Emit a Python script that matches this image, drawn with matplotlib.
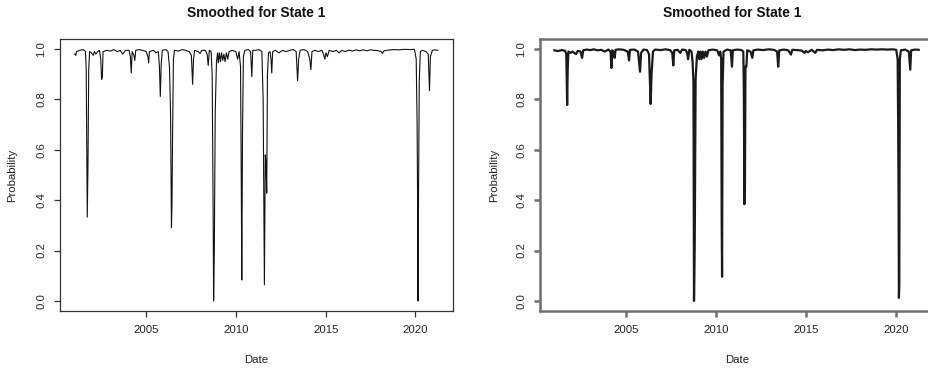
import numpy as np
import matplotlib.pyplot as plt

plt.rcParams['font.family'] = ['Liberation Sans', 'DejaVu Sans']

# smoothed probability of state 1, left model (dates in decimal years)
dates_a = [2001.02, 2001.08, 2001.12, 2001.30, 2001.50, 2001.62, 2001.66, 2001.72, 2001.76, 2001.80,
           2001.85, 2001.95, 2002.05, 2002.12, 2002.20, 2002.30, 2002.40, 2002.47, 2002.52, 2002.56,
           2002.60, 2002.80, 2003.00, 2003.20, 2003.40, 2003.55, 2003.70, 2003.85, 2004.05, 2004.12,
           2004.17, 2004.22, 2004.32, 2004.37, 2004.42, 2004.60, 2004.80, 2005.00, 2005.10, 2005.14,
           2005.18, 2005.40, 2005.55, 2005.68, 2005.74, 2005.79, 2005.84, 2005.90, 2006.10, 2006.22,
           2006.30, 2006.36, 2006.41, 2006.44, 2006.47, 2006.52, 2006.58, 2006.80, 2007.00, 2007.20,
           2007.40, 2007.52, 2007.59, 2007.64, 2007.70, 2007.90, 2008.00, 2008.10, 2008.30, 2008.40,
           2008.46, 2008.52, 2008.62, 2008.68, 2008.73, 2008.76, 2008.80, 2008.85, 2008.92, 2008.98,
           2009.02, 2009.08, 2009.14, 2009.20, 2009.27, 2009.33, 2009.40, 2009.47, 2009.55, 2009.62,
           2009.80, 2010.00, 2010.10, 2010.18, 2010.26, 2010.30, 2010.33, 2010.37, 2010.42, 2010.50,
           2010.70, 2010.82, 2010.89, 2010.94, 2011.10, 2011.30, 2011.45, 2011.52, 2011.59, 2011.64,
           2011.68, 2011.72, 2011.76, 2011.82, 2011.90, 2011.96, 2012.00, 2012.05, 2012.20, 2012.40,
           2012.60, 2012.80, 2013.00, 2013.20, 2013.36, 2013.44, 2013.50, 2013.58, 2013.80, 2014.00,
           2014.12, 2014.18, 2014.24, 2014.40, 2014.60, 2014.80, 2014.90, 2014.96, 2015.02, 2015.10,
           2015.20, 2015.40, 2015.60, 2015.75, 2015.90, 2016.10, 2016.30, 2016.50, 2016.70, 2016.90,
           2017.10, 2017.30, 2017.50, 2017.70, 2017.90, 2018.10, 2018.17, 2018.25, 2018.50, 2018.80,
           2019.10, 2019.40, 2019.70, 2019.95, 2020.05, 2020.10, 2020.13, 2020.15, 2020.18, 2020.22,
           2020.28, 2020.40, 2020.60, 2020.72, 2020.79, 2020.84, 2020.95, 2021.10, 2021.25]
prob_a = [0.980, 0.975, 0.990, 0.995, 0.998, 0.990, 0.920, 0.333, 0.550, 0.920,
          0.990, 0.985, 0.975, 0.990, 0.980, 0.990, 0.995, 0.960, 0.880, 0.890,
          0.990, 0.995, 0.992, 0.998, 0.990, 0.995, 0.980, 0.995, 0.995, 0.970,
          0.905, 0.990, 0.975, 0.955, 0.995, 0.998, 0.995, 0.990, 0.970, 0.945,
          0.990, 0.995, 0.985, 0.990, 0.930, 0.812, 0.940, 0.995, 0.998, 0.990,
          0.930, 0.750, 0.290, 0.380, 0.640, 0.960, 0.995, 0.992, 0.998, 0.995,
          0.990, 0.975, 0.860, 0.960, 0.995, 0.990, 0.982, 0.995, 0.995, 0.980,
          0.935, 0.995, 0.990, 0.900, 0.400, 0.000, 0.200, 0.750, 0.950, 0.985,
          0.945, 0.985, 0.950, 0.985, 0.955, 0.980, 0.950, 0.985, 0.960, 0.990,
          0.995, 0.990, 0.960, 0.990, 0.930, 0.500, 0.083, 0.670, 0.970, 0.995,
          0.998, 0.990, 0.890, 0.995, 0.995, 0.998, 0.990, 0.800, 0.064, 0.580,
          0.550, 0.428, 0.900, 0.985, 0.990, 0.960, 0.905, 0.990, 0.995, 0.985,
          0.995, 0.990, 0.995, 0.998, 0.990, 0.874, 0.960, 0.995, 0.998, 0.990,
          0.960, 0.918, 0.990, 0.995, 0.990, 0.995, 0.975, 0.960, 0.985, 0.970,
          0.995, 0.990, 0.995, 0.985, 0.995, 0.990, 0.996, 0.992, 0.997, 0.993,
          0.997, 0.993, 0.997, 0.995, 0.994, 0.990, 0.983, 0.993, 0.996, 0.998,
          0.997, 0.999, 0.998, 0.999, 0.960, 0.700, 0.360, 0.000, 0.434, 0.870,
          0.990, 0.995, 0.990, 0.980, 0.835, 0.970, 0.995, 0.997, 0.995]

# smoothed probability of state 1, right model
dates_b = [2001.00, 2001.20, 2001.40, 2001.60, 2001.66, 2001.71, 2001.74, 2001.78, 2001.90, 2002.00,
           2002.10, 2002.20, 2002.30, 2002.45, 2002.54, 2002.60, 2002.80, 2003.00, 2003.20, 2003.40,
           2003.60, 2003.80, 2004.00, 2004.12, 2004.17, 2004.22, 2004.30, 2004.35, 2004.40, 2004.60,
           2004.85, 2005.08, 2005.15, 2005.20, 2005.45, 2005.65, 2005.76, 2005.82, 2005.95, 2006.15,
           2006.26, 2006.35, 2006.40, 2006.48, 2006.60, 2006.90, 2007.20, 2007.45, 2007.55, 2007.61,
           2007.66, 2007.85, 2008.00, 2008.10, 2008.30, 2008.38, 2008.43, 2008.50, 2008.62, 2008.68,
           2008.73, 2008.76, 2008.80, 2008.85, 2008.92, 2009.00, 2009.05, 2009.12, 2009.18, 2009.25,
           2009.32, 2009.40, 2009.48, 2009.56, 2009.80, 2010.05, 2010.15, 2010.22, 2010.27, 2010.30,
           2010.32, 2010.35, 2010.40, 2010.60, 2010.80, 2010.87, 2010.92, 2011.15, 2011.40, 2011.50,
           2011.53, 2011.56, 2011.59, 2011.62, 2011.67, 2011.72, 2011.90, 2012.00, 2012.06, 2012.30,
           2012.60, 2012.90, 2013.20, 2013.38, 2013.44, 2013.50, 2013.75, 2014.00, 2014.15, 2014.22,
           2014.50, 2014.75, 2014.90, 2014.97, 2015.10, 2015.30, 2015.50, 2015.60, 2015.90, 2016.20,
           2016.50, 2016.80, 2017.10, 2017.40, 2017.70, 2018.00, 2018.30, 2018.60, 2018.90, 2019.20,
           2019.50, 2019.80, 2020.00, 2020.08, 2020.11, 2020.13, 2020.15, 2020.17, 2020.20, 2020.26,
           2020.50, 2020.70, 2020.78, 2020.83, 2021.05, 2021.25]
prob_b = [0.995, 0.992, 0.996, 0.993, 0.980, 0.778, 0.920, 0.990, 0.985, 0.990,
          0.985, 0.980, 0.993, 0.990, 0.965, 0.995, 0.998, 0.996, 0.999, 0.995,
          0.997, 0.990, 0.998, 0.990, 0.925, 0.995, 0.985, 0.965, 0.997, 0.999,
          0.997, 0.990, 0.955, 0.997, 0.998, 0.990, 0.910, 0.985, 0.998, 0.996,
          0.980, 0.782, 0.900, 0.990, 0.998, 0.996, 0.999, 0.995, 0.985, 0.935,
          0.995, 0.997, 0.985, 0.998, 0.996, 0.985, 0.960, 0.997, 0.990, 0.950,
          0.870, 0.000, 0.220, 0.880, 0.970, 0.990, 0.960, 0.990, 0.960, 0.990,
          0.965, 0.990, 0.970, 0.995, 0.998, 0.995, 0.975, 0.990, 0.960, 0.300,
          0.096, 0.860, 0.990, 0.998, 0.995, 0.930, 0.995, 0.998, 0.996, 0.990,
          0.840, 0.384, 0.440, 0.930, 0.930, 0.995, 0.990, 0.965, 0.995, 0.998,
          0.996, 0.999, 0.997, 0.990, 0.930, 0.995, 0.998, 0.995, 0.978, 0.997,
          0.996, 0.994, 0.985, 0.992, 0.988, 0.997, 0.985, 0.997, 0.995, 0.998,
          0.996, 0.999, 0.997, 0.999, 0.996, 0.998, 0.997, 0.999, 0.998, 0.999,
          0.998, 0.999, 0.997, 0.960, 0.680, 0.430, 0.012, 0.060, 0.960, 0.995,
          0.998, 0.990, 0.918, 0.995, 0.998, 0.997]

xticks = [2005, 2010, 2015, 2020]
yticks = [0.0, 0.2, 0.4, 0.6, 0.8, 1.0]

fig = plt.figure(figsize=(9.29, 3.71), dpi=100)
ax1 = fig.add_axes([60 / 929, 60 / 371, 393 / 929, 272 / 371])
ax2 = fig.add_axes([540 / 929, 60 / 371, 394 / 929, 272 / 371])


def style_axes(ax, box_color, box_lw, title_x):
    ax.set_xlim(2000.2, 2022.1)
    ax.set_ylim(-0.04, 1.04)
    ax.set_xticks(xticks)
    ax.set_xticklabels([str(t) for t in xticks])
    ax.set_yticks(yticks)
    ax.set_yticklabels(['%.1f' % t for t in yticks], rotation=90, va='center')
    for s in ax.spines.values():
        s.set_color(box_color)
        s.set_linewidth(box_lw)
    ax.tick_params(axis='x', direction='out', length=4, width=box_lw, color=box_color,
                   labelsize=8.2, labelcolor='#222222', pad=6)
    ax.tick_params(axis='y', direction='out', length=4, width=box_lw, color=box_color,
                   labelsize=8.2, labelcolor='#222222', pad=6)
    ax.set_title('Smoothed for State 1', fontsize=9.9, fontweight='bold', pad=16,
                 color='#111111', x=title_x)
    ax.set_xlabel('Date', fontsize=8.2, color='#222222')
    ax.set_ylabel('Probability', fontsize=8.2, color='#222222')
    ax.xaxis.set_label_coords(0.5, -0.18)
    ax.xaxis.label.set_va('center')
    ax.yaxis.label.set_va('center')


ax1.plot(dates_a, prob_a, color='#111111', lw=0.8)
style_axes(ax1, '#333333', 0.9, 0.5)
ax1.yaxis.set_label_coords(-0.122, 0.5)

ax2.plot(dates_b, prob_b, color='#1a1a1a', lw=1.6)
style_axes(ax2, '#6e6e6e', 1.8, 0.487)
ax2.yaxis.set_label_coords(-0.117, 0.5)

fig.savefig('out.png', dpi=100)
